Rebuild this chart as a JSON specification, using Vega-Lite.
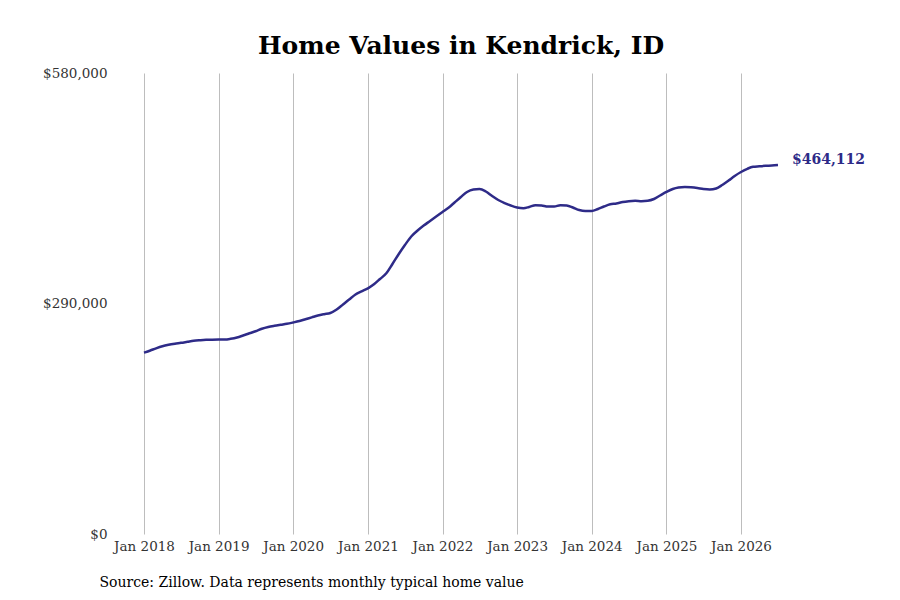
{
  "$schema": "https://vega.github.io/schema/vega-lite/v6.json",
  "width": 634,
  "height": 461,
  "autosize": {"type": "none"},
  "padding": {"left": 144, "top": 73, "right": 122, "bottom": 66},
  "background": "#ffffff",
  "title": {
    "text": "Home Values in Kendrick, ID",
    "font": "DejaVu Serif",
    "fontSize": 25,
    "fontWeight": "bold",
    "color": "#000000",
    "anchor": "middle",
    "offset": 7
  },
  "config": {
    "view": {"stroke": null},
    "font": "DejaVu Serif"
  },
  "data": {
    "values": [
      {"date": "2018-01-01", "value": 228100},
      {"date": "2018-02-01", "value": 230900},
      {"date": "2018-03-01", "value": 233600},
      {"date": "2018-04-01", "value": 236200},
      {"date": "2018-05-01", "value": 238000},
      {"date": "2018-06-01", "value": 239400},
      {"date": "2018-07-01", "value": 240500},
      {"date": "2018-08-01", "value": 241800},
      {"date": "2018-09-01", "value": 243100},
      {"date": "2018-10-01", "value": 243800},
      {"date": "2018-11-01", "value": 244300},
      {"date": "2018-12-01", "value": 244400},
      {"date": "2019-01-01", "value": 244600},
      {"date": "2019-02-01", "value": 244700},
      {"date": "2019-03-01", "value": 245600},
      {"date": "2019-04-01", "value": 247200},
      {"date": "2019-05-01", "value": 249700},
      {"date": "2019-06-01", "value": 252500},
      {"date": "2019-07-01", "value": 255100},
      {"date": "2019-08-01", "value": 258200},
      {"date": "2019-09-01", "value": 260400},
      {"date": "2019-10-01", "value": 261900},
      {"date": "2019-11-01", "value": 263200},
      {"date": "2019-12-01", "value": 264400},
      {"date": "2020-01-01", "value": 266100},
      {"date": "2020-02-01", "value": 268000},
      {"date": "2020-03-01", "value": 270200},
      {"date": "2020-04-01", "value": 272600},
      {"date": "2020-05-01", "value": 274900},
      {"date": "2020-06-01", "value": 276600},
      {"date": "2020-07-01", "value": 278000},
      {"date": "2020-08-01", "value": 282400},
      {"date": "2020-09-01", "value": 288700},
      {"date": "2020-10-01", "value": 295000},
      {"date": "2020-11-01", "value": 301300},
      {"date": "2020-12-01", "value": 305300},
      {"date": "2021-01-01", "value": 309100},
      {"date": "2021-02-01", "value": 314500},
      {"date": "2021-03-01", "value": 320800},
      {"date": "2021-04-01", "value": 328000},
      {"date": "2021-05-01", "value": 339700},
      {"date": "2021-06-01", "value": 352300},
      {"date": "2021-07-01", "value": 363600},
      {"date": "2021-08-01", "value": 374300},
      {"date": "2021-09-01", "value": 381800},
      {"date": "2021-10-01", "value": 388100},
      {"date": "2021-11-01", "value": 393800},
      {"date": "2021-12-01", "value": 399400},
      {"date": "2022-01-01", "value": 405100},
      {"date": "2022-02-01", "value": 410800},
      {"date": "2022-03-01", "value": 417100},
      {"date": "2022-04-01", "value": 424000},
      {"date": "2022-05-01", "value": 430300},
      {"date": "2022-06-01", "value": 433400},
      {"date": "2022-07-01", "value": 434000},
      {"date": "2022-08-01", "value": 430900},
      {"date": "2022-09-01", "value": 425200},
      {"date": "2022-10-01", "value": 420200},
      {"date": "2022-11-01", "value": 416400},
      {"date": "2022-12-01", "value": 413300},
      {"date": "2023-01-01", "value": 410800},
      {"date": "2023-02-01", "value": 409900},
      {"date": "2023-03-01", "value": 411400},
      {"date": "2023-04-01", "value": 413700},
      {"date": "2023-05-01", "value": 413300},
      {"date": "2023-06-01", "value": 412000},
      {"date": "2023-07-01", "value": 412000},
      {"date": "2023-08-01", "value": 413700},
      {"date": "2023-09-01", "value": 413300},
      {"date": "2023-10-01", "value": 410800},
      {"date": "2023-11-01", "value": 407600},
      {"date": "2023-12-01", "value": 406400},
      {"date": "2024-01-01", "value": 406400},
      {"date": "2024-02-01", "value": 408900},
      {"date": "2024-03-01", "value": 412000},
      {"date": "2024-04-01", "value": 414800},
      {"date": "2024-05-01", "value": 415800},
      {"date": "2024-06-01", "value": 417700},
      {"date": "2024-07-01", "value": 418700},
      {"date": "2024-08-01", "value": 419200},
      {"date": "2024-09-01", "value": 418700},
      {"date": "2024-10-01", "value": 419200},
      {"date": "2024-11-01", "value": 421500},
      {"date": "2024-12-01", "value": 425900},
      {"date": "2025-01-01", "value": 430300},
      {"date": "2025-02-01", "value": 434000},
      {"date": "2025-03-01", "value": 435900},
      {"date": "2025-04-01", "value": 436600},
      {"date": "2025-05-01", "value": 436200},
      {"date": "2025-06-01", "value": 435300},
      {"date": "2025-07-01", "value": 434000},
      {"date": "2025-08-01", "value": 433400},
      {"date": "2025-09-01", "value": 434700},
      {"date": "2025-10-01", "value": 439100},
      {"date": "2025-11-01", "value": 444700},
      {"date": "2025-12-01", "value": 450400},
      {"date": "2026-01-01", "value": 455400},
      {"date": "2026-02-01", "value": 459500},
      {"date": "2026-03-01", "value": 462000},
      {"date": "2026-04-01", "value": 462600},
      {"date": "2026-05-01", "value": 463200},
      {"date": "2026-06-01", "value": 463500},
      {"date": "2026-07-01", "value": 464112}
    ]
  },
  "encoding": {
    "x": {
      "field": "date",
      "type": "temporal",
      "scale": {
        "domain": [
          {"year": 2018, "month": 1, "date": 1},
          {"year": 2026, "month": 7, "date": 1}
        ],
        "nice": false
      },
      "axis": {
        "title": "Source: Zillow. Data represents monthly typical home value",
        "titleFont": "DejaVu Serif",
        "titleFontSize": 14,
        "titleFontWeight": "normal",
        "titleColor": "#000000",
        "titleAnchor": "start",
        "titleAlign": "left",
        "titleBaseline": "middle",
        "titleX": -45,
        "titleY": 48,
        "format": "%b %Y",
        "tickCount": {"interval": "year", "step": 1},
        "labelFont": "DejaVu Serif",
        "labelFontSize": 13.5,
        "labelColor": "#333333",
        "labelPadding": 5,
        "labelFlush": false,
        "labelOverlap": false,
        "ticks": false,
        "domain": false,
        "grid": true,
        "gridColor": "#bdbdbd",
        "gridWidth": 1
      }
    },
    "y": {
      "field": "value",
      "type": "quantitative",
      "scale": {"domain": [0, 580000], "nice": false},
      "axis": {
        "title": null,
        "values": [0, 290000, 580000],
        "format": "$,.0f",
        "labelFont": "DejaVu Serif",
        "labelFontSize": 13.5,
        "labelColor": "#333333",
        "labelPadding": 37,
        "ticks": false,
        "domain": false,
        "grid": false
      }
    }
  },
  "layer": [
    {
      "mark": {"type": "line", "color": "#2e2b88", "strokeWidth": 2.5, "interpolate": "monotone"}
    },
    {
      "transform": [{"filter": "year(datum.date) == 2026 && month(datum.date) == 6"}],
      "mark": {
        "type": "text",
        "align": "left",
        "baseline": "middle",
        "dx": 14,
        "dy": -5,
        "font": "DejaVu Serif",
        "fontSize": 14,
        "fontWeight": "bold",
        "color": "#2e2b88"
      },
      "encoding": {
        "text": {"field": "value", "type": "quantitative", "format": "$,.0f"}
      }
    }
  ]
}
